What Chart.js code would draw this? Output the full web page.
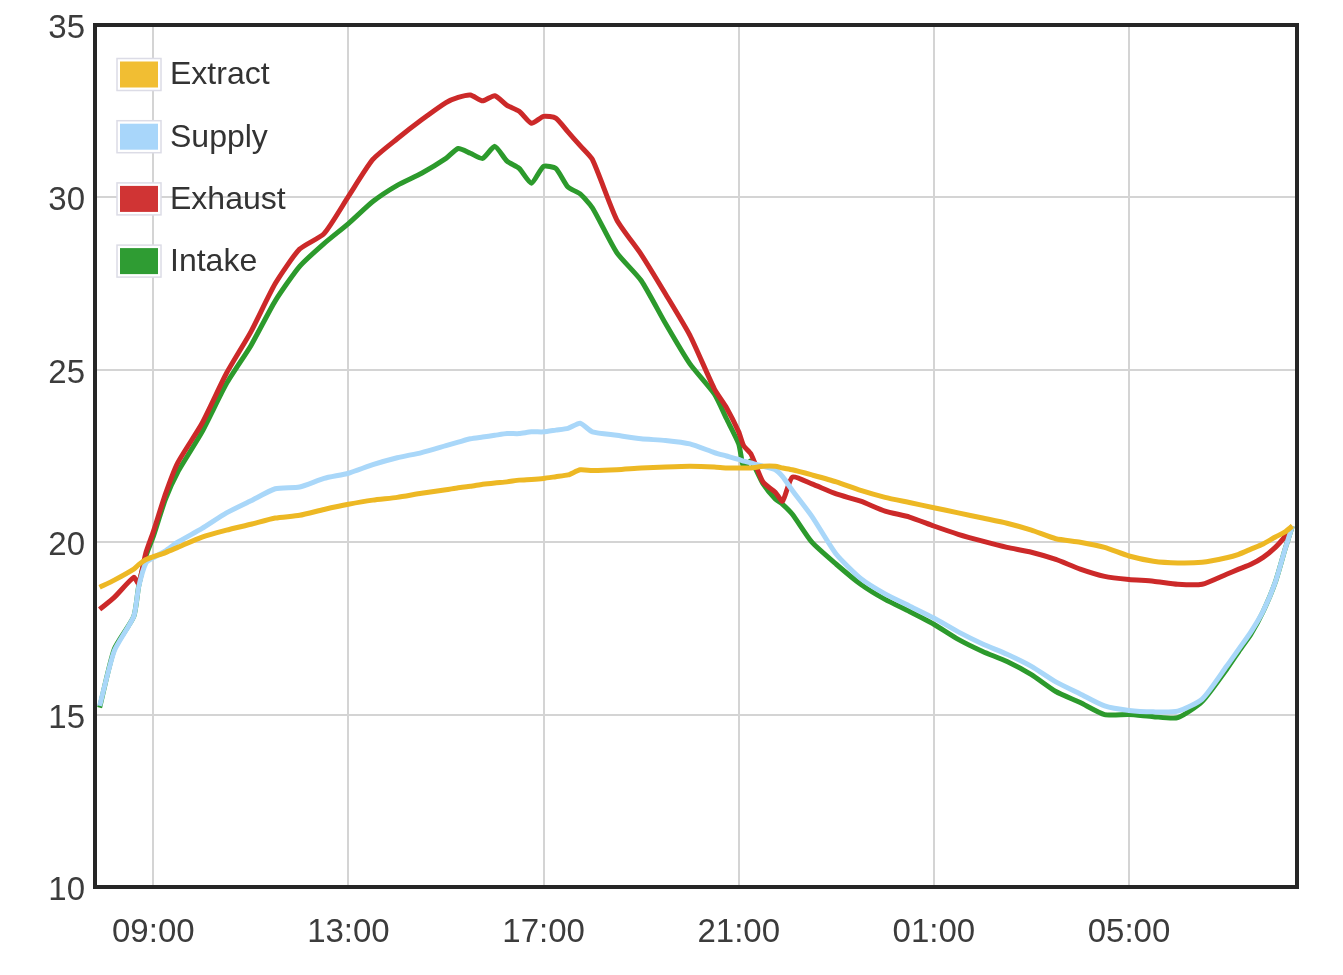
<!DOCTYPE html>
<html>
<head>
<meta charset="utf-8">
<script src="https://cdn.jsdelivr.net/npm/chart.js@4/dist/chart.umd.min.js"></script>
<style>
  html, body { margin: 0; padding: 0; background: #ffffff; }
  #wrap { width: 1343px; height: 975px; }
</style>
</head>
<body>
<div id="wrap"><canvas id="c" width="1343" height="975"></canvas></div>
<script>
// time of day in hours (values past 24 are the next morning)
const times = [7.9, 8.2, 8.6, 8.7, 8.85, 9.0, 9.25, 9.5, 10, 10.5, 11, 11.5, 12, 12.5, 13, 13.5, 14, 14.5, 15,
  15.25, 15.5, 15.75, 16, 16.25, 16.5, 16.75, 17, 17.25, 17.5, 17.75, 18, 18.5, 19, 19.5, 20, 20.5, 20.75,
  21, 21.1, 21.25, 21.5, 21.75, 21.9, 22.1, 22.5, 23, 23.5, 24, 24.5, 25, 25.5, 26, 26.5, 27, 27.5, 28, 28.5,
  29, 29.5, 30, 30.5, 31, 31.25, 31.5, 31.75, 32, 32.2, 32.35];

const extract = [18.69, 18.9, 19.22, 19.35, 19.5, 19.58, 19.7, 19.85, 20.15, 20.35, 20.52, 20.7, 20.78, 20.95, 21.1, 21.22, 21.3, 21.42, 21.52,
  21.58, 21.62, 21.68, 21.72, 21.75, 21.8, 21.82, 21.85, 21.9, 21.95, 22.1, 22.08, 22.1, 22.15, 22.18, 22.2, 22.18, 22.15,
  22.15, 22.15, 22.15, 22.2, 22.2, 22.15, 22.1, 21.95, 21.75, 21.5, 21.3, 21.15, 21.0, 20.85, 20.7, 20.55, 20.35, 20.1, 20.0, 19.85,
  19.6, 19.45, 19.4, 19.42, 19.55, 19.65, 19.8, 19.95, 20.15, 20.3, 20.47];

const supply = [15.25, 16.85, 17.85, 18.7, 19.4, 19.55, 19.75, 20.0, 20.4, 20.85, 21.2, 21.55, 21.6, 21.85, 22.0, 22.25, 22.45, 22.6, 22.8,
  22.9, 23.0, 23.05, 23.1, 23.15, 23.15, 23.2, 23.2, 23.25, 23.3, 23.45, 23.2, 23.1, 23.0, 22.95, 22.85, 22.6, 22.5,
  22.4, 22.35, 22.3, 22.2, 22.1, 21.9, 21.5, 20.75, 19.65, 18.95, 18.5, 18.15, 17.8, 17.4, 17.05, 16.75, 16.4, 15.95, 15.6, 15.25,
  15.12, 15.08, 15.1, 15.45, 16.4, 16.9, 17.4, 18.0, 18.84, 19.8, 20.47];

const exhaust = [18.05, 18.4, 18.98, 18.8, 19.7, 20.3, 21.4, 22.3, 23.45, 24.9, 26.1, 27.5, 28.5, 28.95, 30.03, 31.1, 31.7, 32.25, 32.75,
  32.9, 32.97, 32.8, 32.95, 32.67, 32.5, 32.15, 32.35, 32.3, 31.9, 31.5, 31.1, 29.35, 28.35, 27.2, 26.0, 24.45, 23.9,
  23.2, 22.8, 22.56, 21.74, 21.45, 21.19, 21.89, 21.69, 21.4, 21.19, 20.9, 20.73, 20.47, 20.23, 20.03, 19.85, 19.71, 19.5, 19.22, 19.01,
  18.92, 18.87, 18.78, 18.78, 19.07, 19.22, 19.36, 19.56, 19.85, 20.17, 20.47];

const intake = [15.2, 16.9, 17.85, 18.72, 19.6, 20.17, 21.25, 22.03, 23.2, 24.6, 25.7, 27.0, 28.0, 28.66, 29.24, 29.88, 30.35, 30.7, 31.13,
  31.42, 31.28, 31.13, 31.48, 31.05, 30.84, 30.41, 30.9, 30.84, 30.3, 30.1, 29.7, 28.4, 27.59, 26.34, 25.17, 24.3, 23.58,
  22.85, 22.18, 22.35, 21.69, 21.25, 21.1, 20.81, 20.0, 19.36, 18.78, 18.34, 17.99, 17.62, 17.18, 16.83, 16.54, 16.16, 15.67, 15.35, 15.0,
  15.0, 14.94, 14.91, 15.38, 16.31, 16.83, 17.33, 17.99, 18.84, 19.8, 20.47];

const seriesNames = ['Extract', 'Supply', 'Exhaust', 'Intake'];
const xTickValues = [9, 13, 17, 21, 25, 29];
const xTickLabels = ['09:00', '13:00', '17:00', '21:00', '01:00', '05:00'];
const yTickValues = [10, 15, 20, 25, 30, 35];

const colors = ['#EDB824', '#A9D7F9', '#CC2929', '#2C9A2C'];
const boxColors = ['#F1BE33', '#A8D6FA', '#D03434', '#2F9C33'];
const seriesValues = [extract, supply, exhaust, intake];

const datasets = seriesNames.map((name, i) => ({
  label: name,
  data: times.map((t, j) => ({ x: t, y: seriesValues[i][j] })),
  borderColor: colors[i],
  backgroundColor: boxColors[i],
  borderWidth: 5,
  pointRadius: 0,
  tension: 0.2,
  fill: false
}));

const FONT = "'Liberation Sans', Arial, sans-serif";

const framePlugin = {
  id: 'frame',
  afterDatasetsDraw(chart) {
    const { ctx, chartArea: a } = chart;
    ctx.save();
    ctx.strokeStyle = '#262626';
    ctx.lineWidth = 4;
    ctx.strokeRect(a.left, a.top, a.right - a.left, a.bottom - a.top);
    ctx.restore();
  }
};

const legendPlugin = {
  id: 'innerLegend',
  afterDraw(chart) {
    const { ctx } = chart;
    ctx.save();
    const x0 = 117, y0 = 74.5, step = 62.2, bw = 44, bh = 32;
    chart.data.datasets.forEach((ds, i) => {
      const cy = y0 + i * step;
      ctx.fillStyle = '#ffffff';
      ctx.fillRect(x0, cy - bh / 2, bw, bh);
      ctx.strokeStyle = '#dcdce6';
      ctx.lineWidth = 1.5;
      ctx.strokeRect(x0, cy - bh / 2, bw, bh);
      ctx.fillStyle = ds.backgroundColor;
      ctx.fillRect(x0 + 3, cy - bh / 2 + 3, bw - 6, bh - 6);
      ctx.fillStyle = '#333333';
      ctx.font = '32px ' + FONT;
      ctx.textBaseline = 'middle';
      ctx.textAlign = 'left';
      ctx.fillText(ds.label, x0 + 53, cy + 1);
    });
    ctx.restore();
  }
};

function noPad(scale) {
  scale.paddingTop = 0;
  scale.paddingBottom = 0;
  scale.paddingLeft = 0;
  scale.paddingRight = 0;
}

new Chart(document.getElementById('c'), {
  type: 'line',
  data: { datasets },
  options: {
    responsive: false,
    animation: false,
    layout: { padding: { top: 25, right: 46, left: 0, bottom: 0 } },
    plugins: { legend: { display: false }, tooltip: { enabled: false } },
    scales: {
      x: {
        type: 'linear',
        min: 7.805,
        max: 32.444,
        afterBuildTicks(scale) { scale.ticks = xTickValues.map(v => ({ value: v })); },
        afterFit(scale) { scale.height = 88; noPad(scale); },
        grid: { color: '#d4d4d4', lineWidth: 2, drawTicks: false },
        border: { display: false },
        ticks: {
          padding: 26,
          color: '#3c3c3c',
          font: { family: FONT, size: 33 },
          maxRotation: 0,
          autoSkip: false,
          callback: (v) => { const k = xTickValues.indexOf(v); return k >= 0 ? xTickLabels[k] : ''; }
        }
      },
      y: {
        min: 10,
        max: 35,
        afterBuildTicks(scale) { scale.ticks = yTickValues.map(v => ({ value: v })); },
        afterFit(scale) { scale.width = 95; noPad(scale); },
        grid: { color: '#d4d4d4', lineWidth: 2, drawTicks: false },
        border: { display: false },
        ticks: {
          padding: 10,
          labelOffset: 4,
          color: '#3c3c3c',
          font: { family: FONT, size: 33 }
        }
      }
    }
  },
  plugins: [framePlugin, legendPlugin]
});
</script>
</body>
</html>
